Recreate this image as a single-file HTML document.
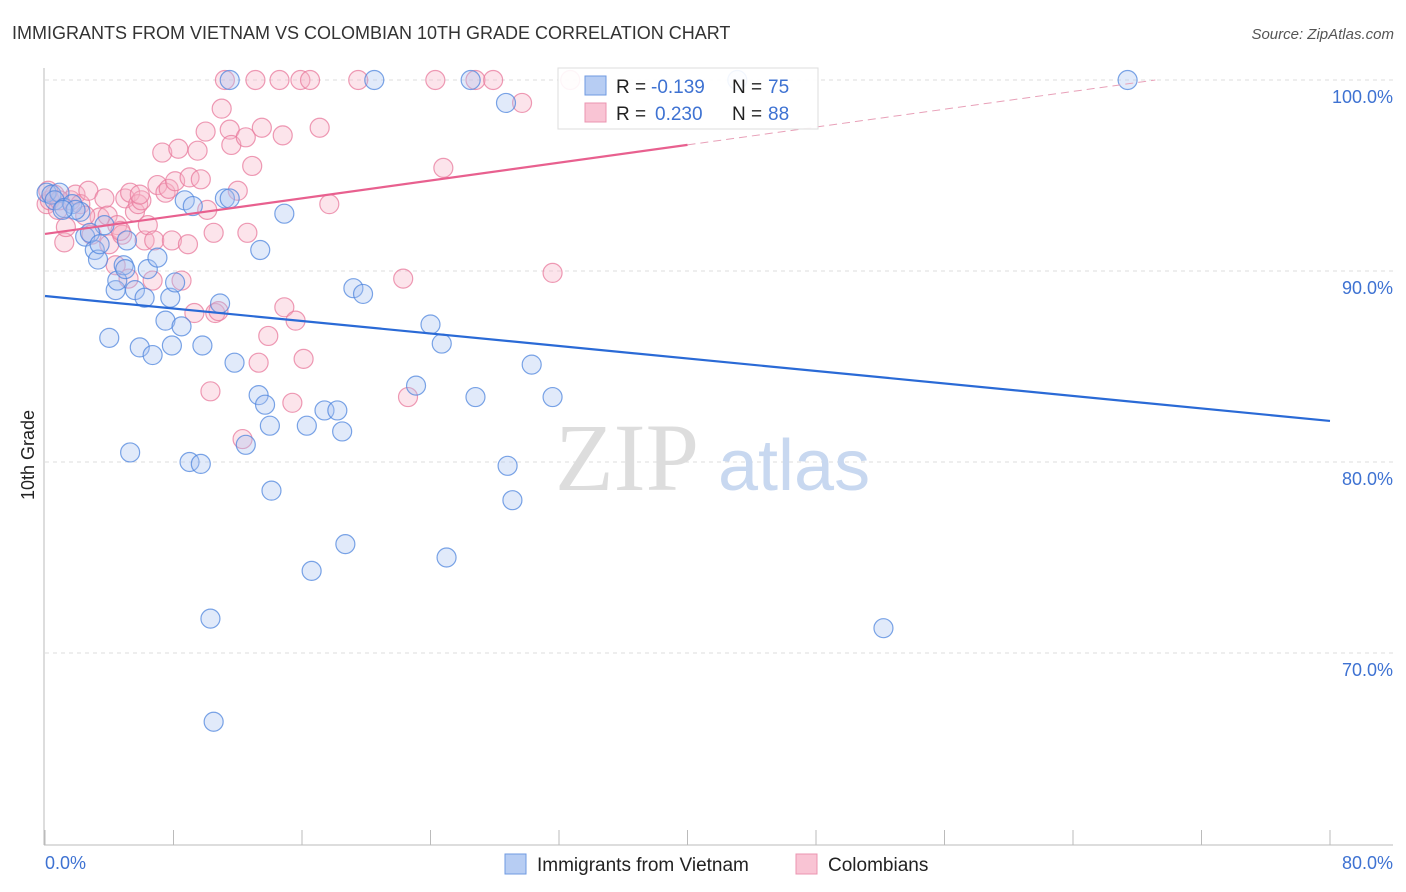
<!DOCTYPE html>
<html><head><meta charset="utf-8">
<style>
body{margin:0;background:#fff;font-family:"Liberation Sans",sans-serif;}
#wrap{position:relative;width:1406px;height:892px;overflow:hidden;}
svg{position:absolute;left:0;top:0;}
</style></head>
<body>
<div id="wrap">
<svg id="chart" width="1406" height="892"></svg>
</div>
<script>
const xTicksLabels = ["0.0%","80.0%"];
const yTickValues = [100,90,80,70];
const yTickLabels = ["100.0%","90.0%","80.0%","70.0%"];
const vietX = [0.1,0.4,0.9,0.6,1.2,1.7,2.2,2.5,3.1,3.3,3.7,4.0,4.4,4.5,4.9,5.1,5.3,5.6,5.9,6.2,6.4,6.7,7.0,7.5,7.8,7.9,8.1,8.5,8.7,9.0,9.2,9.7,9.8,10.3,10.5,10.9,11.2,11.5,11.5,11.8,12.5,13.3,13.7,14.0,14.1,14.9,13.4,16.3,16.6,17.4,18.2,18.5,18.7,19.2,19.8,20.5,23.1,24.0,24.7,25.0,26.5,26.8,28.7,28.8,29.1,30.3,31.6,43.1,52.2,67.4,1.9,1.1,2.8,5.0,3.4];
const vietY = [94.1,94.0,94.1,93.7,93.3,93.5,93.1,91.8,91.1,90.6,92.4,86.5,89.0,89.5,90.3,91.6,80.5,89.0,86.0,88.6,90.1,85.6,90.7,87.4,88.6,86.1,89.4,87.1,93.7,80.0,93.4,79.9,86.1,71.8,66.4,88.3,93.8,93.8,100,85.2,80.9,83.5,83.0,81.9,78.5,93.0,91.1,81.9,74.3,82.7,82.7,81.6,75.7,89.1,88.8,100,84.0,87.2,86.2,75.0,100,83.4,98.8,79.8,78.0,85.1,83.4,100,71.3,100,93.2,93.2,92.0,90.1,91.4];
const colX = [0.1,0.3,0.6,0.8,1.2,1.6,1.9,2.2,2.7,2.9,3.4,3.7,3.9,4.0,4.4,4.5,4.8,5.0,5.2,5.3,5.6,5.8,6.0,6.2,6.4,6.7,6.8,7.0,7.3,7.5,7.7,7.9,8.1,8.3,8.5,8.9,9.0,9.3,9.5,10.0,10.1,10.3,10.5,10.6,10.8,11.0,11.2,11.5,11.6,12.0,12.3,12.5,12.6,12.9,13.1,13.3,13.5,13.9,14.6,14.8,14.9,15.4,15.6,15.9,16.1,17.1,17.7,19.5,22.3,22.6,24.3,24.8,26.8,27.9,29.7,31.6,32.7,0.2,0.9,1.3,2.5,4.7,5.9,9.7,16.5];
const colY = [93.5,93.7,94.0,93.2,91.5,93.7,94.0,93.5,94.2,91.9,92.8,93.8,92.9,91.4,90.3,92.4,91.9,93.8,89.6,94.1,93.1,93.5,93.7,91.6,92.4,89.5,91.6,94.5,96.2,94.1,94.3,91.6,94.7,96.4,89.5,91.4,94.9,87.8,96.3,97.3,93.2,83.7,92.0,87.8,87.9,98.5,100,97.4,96.6,94.2,81.2,97.0,92.0,95.5,100,85.2,97.5,86.6,100,97.1,88.1,83.1,87.4,100,85.4,97.5,93.5,100,89.6,83.4,100,95.4,100,100,98.8,89.9,100,94.2,93.7,92.3,92.9,92.1,94.0,94.8,100];
const vietTrend = [88.69, 82.15];   // y at x=0 and x=80
const colTrend = [91.94, 0.1166];   // intercept, slope per %

const NS="http://www.w3.org/2000/svg";
const svg=document.getElementById('chart');
const X0=45,X1=1330,Y100=80,PX=19.1;
const sx=v=>X0+(v/80)*(X1-X0);
const sy=v=>Y100+(100-v)*PX;
function mk(tag,attrs,parent){const e=document.createElementNS(NS,tag);for(const k in attrs)e.setAttribute(k,attrs[k]);(parent||svg).appendChild(e);return e;}

// title & source
let t=mk('text',{x:12,y:39,'font-size':18,fill:'#333'});t.textContent="IMMIGRANTS FROM VIETNAM VS COLOMBIAN 10TH GRADE CORRELATION CHART";

t=mk('text',{x:1394,y:39,'font-size':15,fill:'#555','text-anchor':'end','font-style':'italic'});t.textContent="Source: ZipAtlas.com";


// gridlines
yTickValues.forEach((v,i)=>{
  const g=mk('line',{x1:X0,x2:1393,y1:sy(v),y2:sy(v),stroke:'#ddd','stroke-dasharray':'4,4'});
  
  const l=mk('text',{x:1393,y:sy(v)+23,'font-size':18,fill:'#3e72d2','text-anchor':'end'});l.textContent=yTickLabels[i];
  
});
// axes
let a=mk('line',{x1:44,x2:44,y1:68,y2:845,stroke:'#bbb'});
a=mk('line',{x1:44,x2:1393,y1:845,y2:845,stroke:'#bbb'});
for(let i=0;i<=10;i++){const tk=mk('line',{x1:sx(i*8),x2:sx(i*8),y1:830,y2:845,stroke:'#bbb'});}
t=mk('text',{x:45,y:869,'font-size':18,fill:'#3e72d2'});t.textContent=xTicksLabels[0];
t=mk('text',{x:1393,y:869,'font-size':18,fill:'#3e72d2','text-anchor':'end'});t.textContent=xTicksLabels[1];
t=mk('text',{x:34,y:455,'font-size':18,fill:'#222','text-anchor':'middle',transform:'rotate(-90 34 455)'});t.textContent="10th Grade";


// watermark
t=mk('text',{x:555,y:490,'font-size':96,fill:'#ddd','font-family':'Liberation Serif, serif'});t.textContent="ZIP";

t=mk('text',{x:718,y:490,'font-size':72,fill:'#c8d8f0'});t.textContent="atlas";


// points
function pts(xs,ys,fill,stroke,name){
  xs.forEach((x,i)=>{const c=mk('circle',{cx:sx(x),cy:sy(ys[i]),r:9.5,fill:fill,'fill-opacity':0.35,stroke:stroke,'stroke-opacity':0.75,'stroke-width':1.2});
  });
}
pts(colX,colY,'#f7b2c6','#e87a9c','colombian-point');
pts(vietX,vietY,'#a8c4f2','#4f86dd','vietnam-point');

// trend lines
let ln=mk('line',{x1:sx(0),y1:sy(vietTrend[0]),x2:sx(80),y2:sy(vietTrend[1]),stroke:'#2a6ad6','stroke-width':2.2});

ln=mk('line',{x1:sx(0),y1:sy(colTrend[0]),x2:sx(40),y2:sy(colTrend[0]+colTrend[1]*40),stroke:'#e8608f','stroke-width':2.2});

const xe=(100-colTrend[0])/colTrend[1];
ln=mk('line',{x1:sx(40),y1:sy(colTrend[0]+colTrend[1]*40),x2:sx(xe),y2:sy(100),stroke:'#e8a0b8','stroke-width':1,'stroke-dasharray':'8,5'});


// stats legend
const lg=mk('g',{});
mk('rect',{x:558,y:68,width:260,height:61,fill:'#fff','fill-opacity':0.9,stroke:'#ddd'},lg);
mk('rect',{x:585,y:76,width:21,height:19,fill:'#b7cdf3',stroke:'#6f9ae2'},lg);
mk('rect',{x:585,y:103,width:21,height:19,fill:'#f9c4d4',stroke:'#eb94b0'},lg);
function tx(x,y,s,c,anc){const e=mk('text',{x:x,y:y,'font-size':19,fill:c,'text-anchor':anc||'start'},lg);e.textContent=s;return e;}
tx(616,93,'R =','#222');tx(651,93,'-0.139','#3e72d2');tx(732,93,'N =','#222');tx(768,93,'75','#3e72d2');
tx(616,120,'R =','#222');tx(655,120,'0.230','#3e72d2');tx(732,120,'N =','#222');tx(768,120,'88','#3e72d2');

// bottom legend
const bl=mk('g',{});
let r=mk('rect',{x:505,y:854,width:21,height:20,fill:'#b7cdf3',stroke:'#6f9ae2'},bl);
t=mk('text',{x:537,y:871,'font-size':19,fill:'#222'},bl);t.textContent="Immigrants from Vietnam";
r=mk('rect',{x:796,y:854,width:21,height:20,fill:'#f9c4d4',stroke:'#eb94b0'},bl);
t=mk('text',{x:828,y:871,'font-size':19,fill:'#222'},bl);t.textContent="Colombians";
</script>
</body></html>
